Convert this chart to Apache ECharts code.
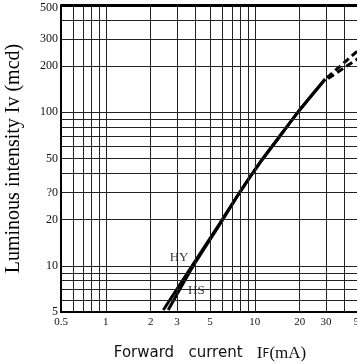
<!DOCTYPE html>
<html><head><meta charset="utf-8">
<script src="https://cdn.jsdelivr.net/npm/echarts@6/dist/echarts.min.js"></script>
<style>html,body{margin:0;padding:0;background:#fff}#c{width:357px;height:364px}</style>
</head><body><div id="c"></div>
<script>
const xTicks = [0.5, 1, 2, 3, 5, 10, 20, 30, 50];
const yTicks = [5, 10, 20, 30, 50, 100, 200, 300, 500];
const yTickText = ['5', '10', '20', '?0', '50', '100', '200', '300', '500'];
const gridX = [0.6, 0.7, 0.8, 0.9, 1, 2, 3, 4, 5, 6, 7, 8, 9, 10, 20, 30, 40];
const gridY = [6, 7, 8, 9, 10, 20, 30, 40, 50, 60, 70, 80, 90, 100, 200, 300, 400];
const hySolid = [[2.43, 5.15], [6, 19.8], [7.9, 30], [11, 48], [14.4, 68], [19.6, 101], [29.6, 164]];
const hsSolid = [[2.62, 5.15], [3.84, 9.9], [5.8, 18.5], [7.9, 30], [11, 48], [14.4, 68], [19.6, 101], [29.6, 164]];
const hyDash = [[30.5, 168], [50, 256]];
const hsDash = [[31, 166], [50, 226]];
const curveLabels = [[3.1, 11.3, 'HY'], [4.05, 6.86, 'HS']];

const chart = echarts.init(document.getElementById('c'));
const black = '#000';
chart.setOption({
  animation: false,
  grid: { left: 61, right: -2, top: 5, bottom: 52, show: false, outerBoundsMode: 'none', containLabel: false },
  xAxis: {
    type: 'log', logBase: 10, min: 0.5, max: 50,
    axisLine: { show: true, lineStyle: { color: black, width: 2 } },
    axisTick: { show: false },
    splitLine: { show: false },
    axisLabel: {
      customValues: xTicks, color: '#111', fontFamily: 'Liberation Serif', fontSize: 11, margin: 5,
      hideOverlap: false, showMaxLabel: true,
      formatter: v => String(v)
    },
    name: '{a|Forward   current   }{b|I}{c|F}{b|(mA)}',
    nameLocation: 'middle', nameGap: 33,
    nameTextStyle: {
      rich: {
        a: { fontFamily: 'DejaVu Sans', fontSize: 15, color: '#111' },
        b: { fontFamily: 'Liberation Serif', fontSize: 17, color: '#111' },
        c: { fontFamily: 'DejaVu Sans', fontSize: 12, color: '#111' }
      }
    }
  },
  yAxis: {
    type: 'log', logBase: 10, min: 5, max: 500,
    axisLine: { show: true, lineStyle: { color: black, width: 2 } },
    axisTick: { show: false },
    splitLine: { show: false },
    axisLabel: {
      customValues: yTicks, color: '#111', fontFamily: 'Liberation Serif', fontSize: 12, margin: 3,
      formatter: v => {
        const i = yTicks.indexOf(Math.round(v));
        const t = i >= 0 ? yTickText[i] : String(v);
        return i === yTicks.length - 1 ? '{top|' + t + '}' : t;
      },
      rich: { top: { fontFamily: 'Liberation Serif', fontSize: 12, color: '#111', padding: [5, 0, 0, 0] } }
    },
    name: 'Luminous intensity Iv (mcd)',
    nameLocation: 'middle', nameGap: 37, nameRotate: 90,
    nameTextStyle: { fontFamily: 'Liberation Serif', fontSize: 20, color: '#000' }
  },
  series: [
    {
      type: 'line', data: [], silent: true,
      markLine: {
        silent: true, symbol: 'none', label: { show: false },
        lineStyle: { color: '#222', width: 1, type: 'solid' },
        data: gridX.map(v => ({ xAxis: v })).concat(gridY.map(v => ({ yAxis: v })))
          .concat([{ yAxis: 500, lineStyle: { width: 3, color: '#000' } }])
      }
    },
    { type: 'line', data: hyDash, symbol: 'none', lineStyle: { color: black, width: 3, type: [7, 4] } },
    { type: 'line', data: hsDash, symbol: 'none', lineStyle: { color: black, width: 3, type: [7, 4] } },
    { type: 'line', data: hySolid, symbol: 'none', smooth: 0.2, lineStyle: { color: black, width: 3 } },
    { type: 'line', data: hsSolid, symbol: 'none', smooth: 0.2, lineStyle: { color: black, width: 3 } },
    {
      type: 'scatter', data: curveLabels, symbolSize: 0,
      label: { show: true, position: 'inside', formatter: p => p.data[2], color: '#000',
        fontFamily: 'Liberation Serif', fontSize: 13, backgroundColor: '#fff', padding: [0, 1] }
    }
  ]
});
</script></body></html>
